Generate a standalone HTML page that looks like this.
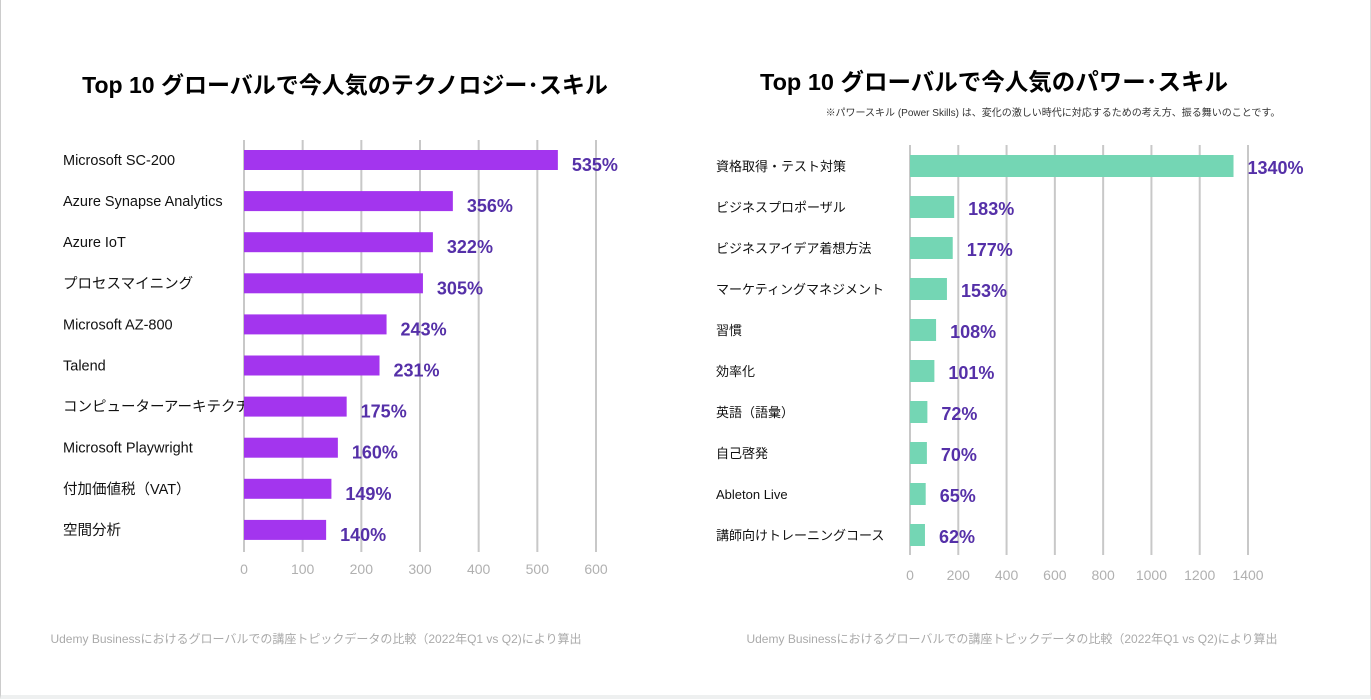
<!DOCTYPE html>
<html><head><meta charset="utf-8">
<style>
html,body{margin:0;padding:0;background:#fff;}
body{width:1371px;height:700px;overflow:hidden;position:relative;font-family:"Liberation Sans","Noto Sans CJK JP",sans-serif;}
#frame{position:absolute;left:0;top:0;width:1369px;height:695px;border-left:1px solid #ccc;border-right:1px solid #ddd;border-bottom:4px solid #eef0f0;}
svg text{font-family:"Liberation Sans","Noto Sans CJK JP",sans-serif;}
</style></head>
<body>
<div id="frame"></div>
<svg id="chart" width="1371" height="700" style="position:absolute;left:0;top:0">
<text x="345" y="93" text-anchor="middle" font-size="23" font-weight="bold" fill="#000">Top 10 グローバルで今人気のテクノロジー･スキル</text>
<text x="994" y="90" text-anchor="middle" font-size="23.5" font-weight="bold" fill="#000">Top 10 グローバルで今人気のパワー･スキル</text>
<text x="1053" y="116" text-anchor="middle" font-size="10" fill="#333">※パワースキル (Power Skills) は、変化の激しい時代に対応するための考え方、振る舞いのことです。</text>
<text x="316" y="643" text-anchor="middle" font-size="12" fill="#aaa">Udemy Businessにおけるグローバルでの講座トピックデータの比較（2022年Q1 vs Q2)により算出</text>
<text x="1012" y="643" text-anchor="middle" font-size="12" fill="#aaa">Udemy Businessにおけるグローバルでの講座トピックデータの比較（2022年Q1 vs Q2)により算出</text>
<g id="left"></g>
<g id="right"></g>
</svg>
<script>
const techCategories = ["Microsoft SC-200","Azure Synapse Analytics","Azure IoT","プロセスマイニング","Microsoft AZ-800","Talend","コンピューターアーキテクチャ","Microsoft Playwright","付加価値税（VAT）","空間分析"];
const techValues = [535,356,322,305,243,231,175,160,149,140];
const techTicks = [0,100,200,300,400,500,600];
const powerCategories = ["資格取得・テスト対策","ビジネスプロポーザル","ビジネスアイデア着想方法","マーケティングマネジメント","習慣","効率化","英語（語彙）","自己啓発","Ableton Live","講師向けトレーニングコース"];
const powerValues = [1340,183,177,153,108,101,72,70,65,62];
const powerTicks = [0,200,400,600,800,1000,1200,1400];

const NS="http://www.w3.org/2000/svg";
function mk(parent,tag,attrs,txt){const e=document.createElementNS(NS,tag);for(const k in attrs)e.setAttribute(k,attrs[k]);if(txt!==undefined)e.textContent=txt;parent.appendChild(e);return e;}

function drawChart(gid,cfg,cats,vals,ticks,prefix){
  const g=document.getElementById(gid);
  const xs=v=>cfg.x0+(v-ticks[0])/(ticks[ticks.length-1]-ticks[0])*(cfg.x1-cfg.x0);
  const ys=i=>cfg.y0+i*cfg.step;
  ticks.forEach(t=>{
    const l=mk(g,'line',{x1:xs(t),x2:xs(t),y1:cfg.gTop,y2:cfg.gBot,stroke:'#c8c8c8','stroke-width':2});
    
    
    const tx=mk(g,'text',{x:xs(t),y:cfg.tickY,'text-anchor':'middle','font-size':14,fill:'#b0b0b0'},String(t));
    
    
  });
  cats.forEach((c,i)=>{
    const cy=ys(i);
    const lb=mk(g,'text',{x:cfg.labelX,y:cy+5,'font-size':cfg.labelSize,fill:'#111'},c);
    
    
    const b=mk(g,'rect',{x:xs(0),y:cy-cfg.bh/2,width:xs(vals[i])-xs(0),height:cfg.bh,fill:cfg.color});
    
    
    const v=mk(g,'text',{x:xs(vals[i])+14,y:cy+cfg.valDy,'font-size':18,'font-weight':'bold',fill:'#5530a8'},vals[i]+'%');
    
    
  });
}
drawChart('left',{x0:244,x1:596,y0:160,step:41.1,bh:20,gTop:140,gBot:552,tickY:574,labelX:63,labelSize:14.5,color:'#a335ee',valDy:11},techCategories,techValues,techTicks,'tech');
drawChart('right',{x0:910,x1:1248,y0:166,step:41,bh:22,gTop:145,gBot:555,tickY:580,labelX:716,labelSize:13,color:'#74d6b4',valDy:8},powerCategories,powerValues,powerTicks,'power');
</script>
</body></html>
